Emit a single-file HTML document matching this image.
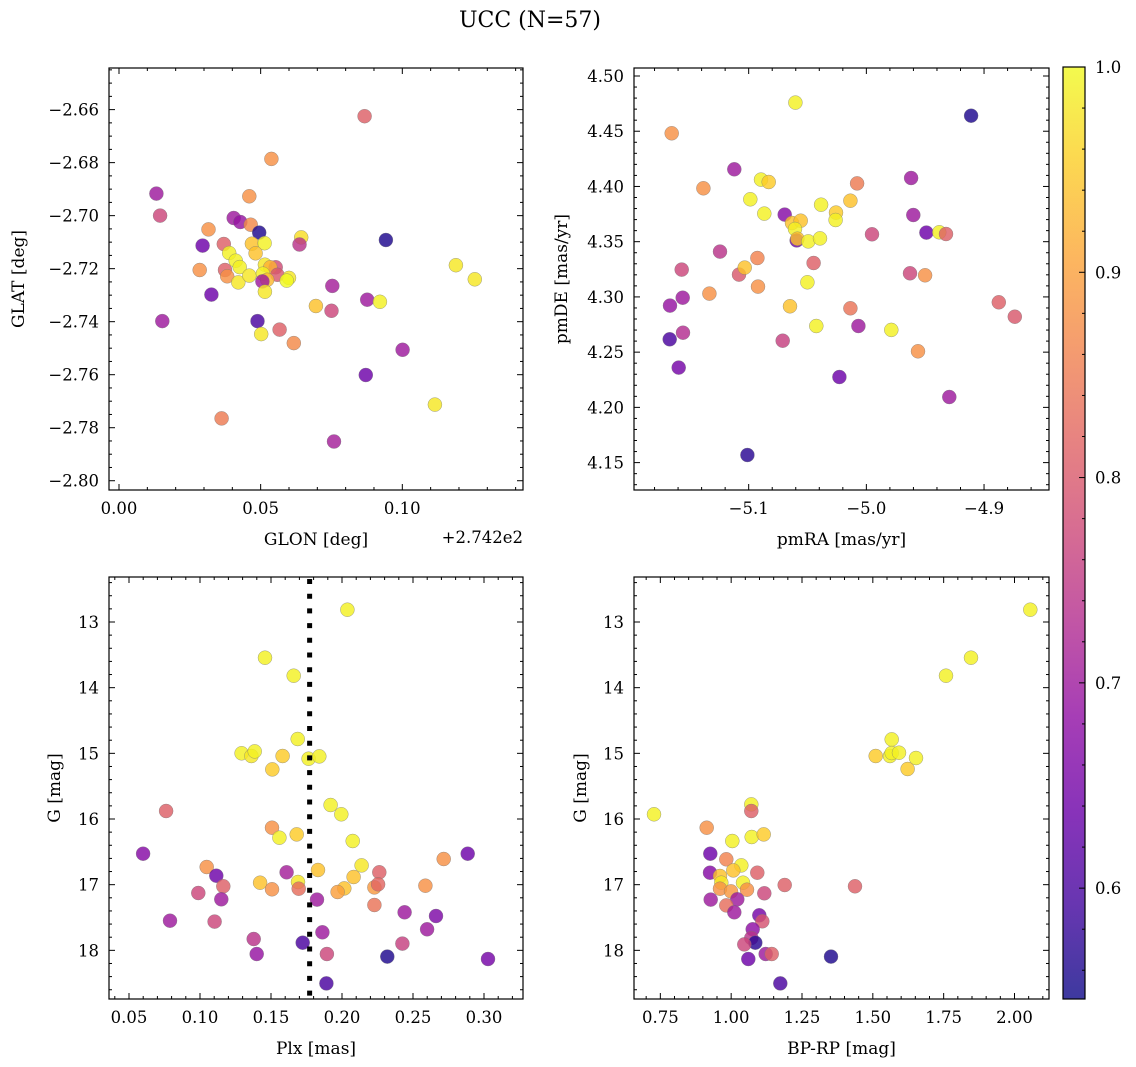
<!DOCTYPE html>
<html><head><meta charset="utf-8">
<style>
html,body{margin:0;padding:0;background:#fff;}
svg{display:block;font-family:"DejaVu Serif","Liberation Serif",serif;}
</style></head>
<body>
<svg id="fig" width="1136" height="1067" viewBox="0 0 1136 1067" xmlns="http://www.w3.org/2000/svg">
<defs>
<linearGradient id="plasma" x1="0" y1="1" x2="0" y2="0">
<stop offset="0" stop-color="#0d0887"/><stop offset="0.1" stop-color="#41049d"/><stop offset="0.2" stop-color="#6a00a8"/><stop offset="0.3" stop-color="#8f0da4"/><stop offset="0.4" stop-color="#b12a90"/><stop offset="0.5" stop-color="#cc4778"/><stop offset="0.6" stop-color="#e16462"/><stop offset="0.7" stop-color="#f2844b"/><stop offset="0.8" stop-color="#fca636"/><stop offset="0.9" stop-color="#fcce25"/><stop offset="1" stop-color="#f0f921"/>
</linearGradient>
</defs>
<text x="530" y="27" font-size="22" text-anchor="middle">UCC (N=57)</text>
</svg>
<script>
// ---- data ----
const p1Glon=[0.0867,0.0538,0.0132,0.0145,0.0460,0.0405,0.0428,0.0465,0.0495,0.0316,0.0295,0.0370,0.0469,0.0514,0.0643,0.0637,0.0942,0.0389,0.0482,0.0412,0.0426,0.0285,0.0374,0.0382,0.0421,0.0460,0.0515,0.0553,0.0534,0.0508,0.0559,0.0523,0.0506,0.0600,0.0592,0.0515,0.0326,0.0753,0.0695,0.0750,0.0876,0.0921,0.1189,0.1256,0.0153,0.0489,0.0502,0.0567,0.0617,0.1001,0.0871,0.1115,0.0362,0.0759];
const p1Glat=[-2.6625,-2.6786,-2.6917,-2.7000,-2.6927,-2.7009,-2.7024,-2.7034,-2.7064,-2.7052,-2.7113,-2.7107,-2.7106,-2.7104,-2.7082,-2.7109,-2.7092,-2.7141,-2.7142,-2.7170,-2.7194,-2.7205,-2.7205,-2.7229,-2.7252,-2.7226,-2.7185,-2.7195,-2.7195,-2.7219,-2.7223,-2.7242,-2.7248,-2.7235,-2.7245,-2.7287,-2.7298,-2.7265,-2.7341,-2.7359,-2.7317,-2.7325,-2.7187,-2.7240,-2.7398,-2.7398,-2.7447,-2.7430,-2.7481,-2.7506,-2.7601,-2.7713,-2.7765,-2.7852];
const p1Prob=[0.81,0.88,0.70,0.77,0.88,0.70,0.69,0.87,0.56,0.88,0.64,0.81,0.94,0.99,0.97,0.74,0.56,0.99,0.94,0.99,0.99,0.88,0.81,0.88,0.98,0.98,0.98,0.78,0.92,0.99,0.80,0.93,0.70,0.98,1.0,0.98,0.64,0.71,0.94,0.77,0.70,0.99,0.98,0.98,0.70,0.60,0.98,0.81,0.87,0.70,0.64,0.98,0.85,0.71];

const p2PmRA=[-5.0603,-4.9110,-5.1654,-5.1122,-5.1385,-5.0895,-5.0830,-5.0079,-4.9620,-5.0986,-5.0136,-5.0385,-5.0867,-5.0694,-5.0258,-5.0261,-4.9601,-5.0632,-5.0558,-5.0606,-5.0592,-5.0586,-5.0493,-5.0394,-4.9952,-4.9490,-4.9380,-4.9323,-5.1244,-5.0926,-5.1569,-5.1082,-5.1034,-5.0448,-4.9629,-4.9501,-5.0921,-5.0501,-5.1561,-5.1334,-5.1669,-5.0649,-5.0136,-4.8875,-4.8739,-5.1558,-5.1671,-5.0425,-5.0068,-5.0711,-4.9788,-4.9561,-5.1595,-5.0229,-4.9295,-5.1011];
const p2PmDE=[4.4759,4.4641,4.4481,4.4155,4.3983,4.4062,4.4040,4.4028,4.4077,4.3884,4.3871,4.3835,4.3754,4.3745,4.3763,4.3696,4.3742,4.3669,4.3690,4.3615,4.3512,4.3527,4.3503,4.3530,4.3567,4.3582,4.3585,4.3570,4.3410,4.3352,4.3247,4.3202,4.3265,4.3307,4.3214,4.3196,4.3093,4.3132,4.2993,4.3030,4.2921,4.2915,4.2897,4.2951,4.2821,4.2676,4.2616,4.2737,4.2737,4.2604,4.2701,4.2508,4.2360,4.2275,4.2094,4.1569];
const p2Prob=[0.99,0.56,0.88,0.70,0.88,0.99,0.95,0.85,0.70,0.99,0.94,0.99,0.99,0.67,0.95,0.99,0.70,0.94,0.94,0.99,0.64,0.94,0.99,0.99,0.77,0.64,0.99,0.81,0.74,0.86,0.77,0.80,0.94,0.81,0.77,0.88,0.88,0.99,0.70,0.88,0.69,0.94,0.84,0.81,0.80,0.73,0.60,0.99,0.70,0.76,0.99,0.88,0.65,0.64,0.70,0.57];

const p3Plx=[0.2038,0.1458,0.1660,0.1688,0.1293,0.1362,0.1385,0.1582,0.1765,0.1840,0.1509,0.1920,0.1995,0.0761,0.1507,0.1559,0.1681,0.2075,0.0599,0.2885,0.2716,0.2138,0.1047,0.1115,0.1610,0.1831,0.2263,0.2082,0.1423,0.1690,0.1164,0.1695,0.1507,0.0988,0.2016,0.1969,0.2228,0.2254,0.2587,0.1150,0.1824,0.2228,0.2441,0.2662,0.0789,0.1103,0.2599,0.1862,0.1378,0.1723,0.2425,0.1399,0.1894,0.2319,0.3028,0.1890];
const p3G=[12.812,13.543,13.817,14.782,15.000,15.041,14.970,15.041,15.081,15.046,15.244,15.787,15.929,15.878,16.132,16.284,16.234,16.335,16.528,16.528,16.609,16.706,16.731,16.863,16.812,16.777,16.812,16.883,16.970,16.959,17.025,17.061,17.071,17.127,17.056,17.112,17.041,16.995,17.015,17.223,17.228,17.310,17.421,17.477,17.548,17.563,17.680,17.726,17.827,17.883,17.898,18.056,18.056,18.096,18.132,18.503];
const p3Prob=[0.99,0.99,0.99,0.99,0.99,0.98,0.99,0.95,0.99,0.99,0.95,0.99,0.99,0.81,0.88,0.99,0.95,0.99,0.67,0.64,0.88,0.98,0.88,0.64,0.71,0.94,0.81,0.94,0.94,0.98,0.81,0.83,0.88,0.77,0.94,0.90,0.89,0.82,0.88,0.70,0.70,0.84,0.70,0.66,0.70,0.77,0.70,0.70,0.74,0.60,0.76,0.69,0.77,0.56,0.65,0.60];

const p4BpRp=[2.0559,1.8465,1.7582,1.5665,1.5100,1.5606,1.5665,1.5924,1.6524,1.6229,0.7276,1.0712,1.0712,0.9135,1.0041,1.0724,1.1147,0.9265,0.9829,1.0359,1.0076,0.9253,1.0924,0.9606,0.9653,1.0418,1.1888,1.4371,0.9606,0.9994,1.0559,1.1171,0.9276,1.0218,0.9829,1.0112,1.0994,1.1100,1.0759,1.0712,1.0853,1.0465,1.1218,1.1429,1.0606,1.3524,1.1735];
const p4G=[12.812,13.543,13.817,14.787,15.041,15.041,14.995,14.990,15.071,15.239,15.929,15.777,15.878,16.132,16.335,16.274,16.234,16.528,16.614,16.706,16.782,16.817,16.817,16.868,16.970,16.970,17.005,17.025,17.061,17.102,17.076,17.132,17.228,17.223,17.315,17.421,17.467,17.558,17.680,17.812,17.883,17.909,18.056,18.056,18.132,18.096,18.503];
const p4Prob=[0.99,0.99,0.99,0.99,0.95,0.99,0.99,0.99,0.99,0.95,0.99,0.99,0.81,0.88,0.99,0.99,0.95,0.64,0.86,0.99,0.94,0.67,0.81,0.94,0.98,0.99,0.81,0.81,0.88,0.89,0.88,0.77,0.70,0.70,0.83,0.70,0.65,0.79,0.68,0.74,0.57,0.77,0.70,0.81,0.64,0.56,0.60];

const plxLine=0.1772;
const cbTicks=[0.6,0.7,0.8,0.9,1.0];
const cbMin=0.546, cbMax=1.0;

// ---- rendering ----
const NS="http://www.w3.org/2000/svg";
const svg=document.getElementById('fig');
function mk(tag,attrs,parent){const e=document.createElementNS(NS,tag);for(const k in attrs)e.setAttribute(k,attrs[k]);(parent||svg).appendChild(e);return e;}
const stops=[[13,8,135],[65,4,157],[106,0,168],[143,13,164],[177,42,144],[204,71,120],[225,100,98],[242,132,75],[252,166,54],[252,206,37],[240,249,33]];
function plasma(v){let t=(v-cbMin)/(cbMax-cbMin);t=Math.max(0,Math.min(1,t))*10;const i=Math.min(9,Math.floor(t)),f=t-i;const a=stops[i],b=stops[i+1];return 'rgb('+a.map((c,k)=>Math.round(c+(b[k]-c)*f)).join(',')+')';}
function fmt(v,d){return (v<0?'\u2212':'')+Math.abs(v).toFixed(d);}

function panel(cfg){
  const g=mk('g',{});
  
  
  const sx=v=>cfg.px0+(v-cfg.xmin)/(cfg.xmax-cfg.xmin)*(cfg.px1-cfg.px0);
  const sy=v=>cfg.py0+(v-cfg.ytop)/(cfg.ybot-cfg.ytop)*(cfg.py1-cfg.py0);
  const pg=mk('g',{},g);
  
  
  for(let i=0;i<cfg.xs.length;i++){
    const c=mk('circle',{cx:sx(cfg.xs[i]).toFixed(1),cy:sy(cfg.ys[i]).toFixed(1),r:7,fill:plasma(cfg.cs[i]),'fill-opacity':0.82,stroke:'#777','stroke-width':0.5,'stroke-opacity':0.7},pg);
    
    
  }
  if(cfg.vline!==undefined){
    const l=mk('line',{x1:sx(cfg.vline),x2:sx(cfg.vline),y1:cfg.py0,y2:cfg.py1,stroke:'#000','stroke-width':5,'stroke-dasharray':'5,9.7','stroke-dashoffset':-2},g);
    
    
  }
  const fr=mk('rect',{x:cfg.px0,y:cfg.py0,width:cfg.px1-cfg.px0,height:cfg.py1-cfg.py0,fill:'none',stroke:'#000','stroke-width':1.2},g);
  
  
  const eps=1e-9;
  let start=Math.ceil(cfg.xmin/cfg.xminor-eps);
  for(let k=start;k*cfg.xminor<=cfg.xmax+eps;k++){
    const v=k*cfg.xminor,X=sx(v);
    const isMaj=Math.abs(v/cfg.xmajor-Math.round(v/cfg.xmajor))<1e-6;
    const L=isMaj?6:3;
    mk('line',{x1:X,x2:X,y1:cfg.py1,y2:cfg.py1-L,stroke:'#000','stroke-width':1},g);
    mk('line',{x1:X,x2:X,y1:cfg.py0,y2:cfg.py0+L,stroke:'#000','stroke-width':1},g);
    if(isMaj){const t=mk('text',{x:X,y:cfg.py1+24,'font-size':16.5,'text-anchor':'middle'},g);t.textContent=fmt(v,cfg.xdec);
      }
  }
  let ys=Math.ceil(Math.min(cfg.ytop,cfg.ybot)/cfg.yminor-eps), ye=Math.max(cfg.ytop,cfg.ybot);
  for(let k=ys;k*cfg.yminor<=ye+eps;k++){
    const v=k*cfg.yminor,Y=sy(v);
    const isMaj=Math.abs(v/cfg.ymajor-Math.round(v/cfg.ymajor))<1e-6;
    const L=isMaj?6:3;
    mk('line',{x1:cfg.px0,x2:cfg.px0+L,y1:Y,y2:Y,stroke:'#000','stroke-width':1},g);
    mk('line',{x1:cfg.px1,x2:cfg.px1-L,y1:Y,y2:Y,stroke:'#000','stroke-width':1},g);
    if(isMaj){const t=mk('text',{x:cfg.px0-10,y:Y+6,'font-size':16.5,'text-anchor':'end'},g);t.textContent=fmt(v,cfg.ydec);
      }
  }
  const xl=mk('text',{x:(cfg.px0+cfg.px1)/2,y:cfg.py1+55,'font-size':17,'text-anchor':'middle'},g);
  xl.textContent=cfg.xlabel;
  
  
  const yl=mk('text',{x:0,y:0,'font-size':17,'text-anchor':'middle',transform:'translate('+cfg.ylx+','+((cfg.py0+cfg.py1)/2)+') rotate(-90)'},g);
  yl.textContent=cfg.ylabel;
  
  
}

panel({name:'glon-glat-panel',px0:109,px1:523,py0:68,py1:490,xmin:-0.00353,xmax:0.1426,ytop:-2.6443,ybot:-2.8035,xs:p1Glon,ys:p1Glat,cs:p1Prob,xmajor:0.05,xminor:0.01,ymajor:0.02,yminor:0.005,xdec:2,ydec:2,xlabel:'GLON [deg]',ylabel:'GLAT [deg]',ylx:24});
panel({name:'pm-panel',px0:634,px1:1049,py0:68,py1:490,xmin:-5.19745,xmax:-4.8448,ytop:4.50724,ybot:4.1252,xs:p2PmRA,ys:p2PmDE,cs:p2Prob,xmajor:0.1,xminor:0.02,ymajor:0.05,yminor:0.01,xdec:1,ydec:2,xlabel:'pmRA [mas/yr]',ylabel:'pmDE [mas/yr]',ylx:567});
panel({name:'plx-g-panel',px0:109,px1:523,py0:577,py1:999,xmin:0.03592,xmax:0.32746,ytop:12.3147,ybot:18.741,xs:p3Plx,ys:p3G,cs:p3Prob,xmajor:0.05,xminor:0.01,ymajor:1,yminor:0.2,xdec:2,ydec:0,xlabel:'Plx [mas]',ylabel:'G [mag]',ylx:60,vline:plxLine});
panel({name:'cmd-panel',px0:634,px1:1049,py0:577,py1:999,xmin:0.65706,xmax:2.1218,ytop:12.3147,ybot:18.741,xs:p4BpRp,ys:p4G,cs:p4Prob,xmajor:0.25,xminor:0.05,ymajor:1,yminor:0.2,xdec:2,ydec:0,xlabel:'BP-RP [mag]',ylabel:'G [mag]',ylx:586});

const off=mk('text',{x:523,y:543,'font-size':16.5,'text-anchor':'end'});
off.textContent='+2.742e2';



const cb=mk('g',{});


const cbx0=1063,cbx1=1085,cby0=67,cby1=999;
mk('rect',{x:cbx0,y:cby0,width:cbx1-cbx0,height:cby1-cby0,fill:'url(#plasma)','fill-opacity':0.8},cb);
mk('rect',{x:cbx0,y:cby0,width:cbx1-cbx0,height:cby1-cby0,fill:'none',stroke:'#000','stroke-width':1.2},cb);
const cy=v=>cby1-(v-cbMin)/(cbMax-cbMin)*(cby1-cby0);
for(let k=28;k<=50;k++){const v=k*0.02;if(v<cbMin)continue;const Y=cy(v);const maj=k%5===0;
  mk('line',{x1:cbx1,x2:cbx1-(maj?6:3),y1:Y,y2:Y,stroke:'#000','stroke-width':1},cb);}
cbTicks.forEach(v=>{const t=mk('text',{x:cbx1+10,y:cy(v)+6,'font-size':16.5},cb);t.textContent=v.toFixed(1);
  
  });
</script>
</body></html>
